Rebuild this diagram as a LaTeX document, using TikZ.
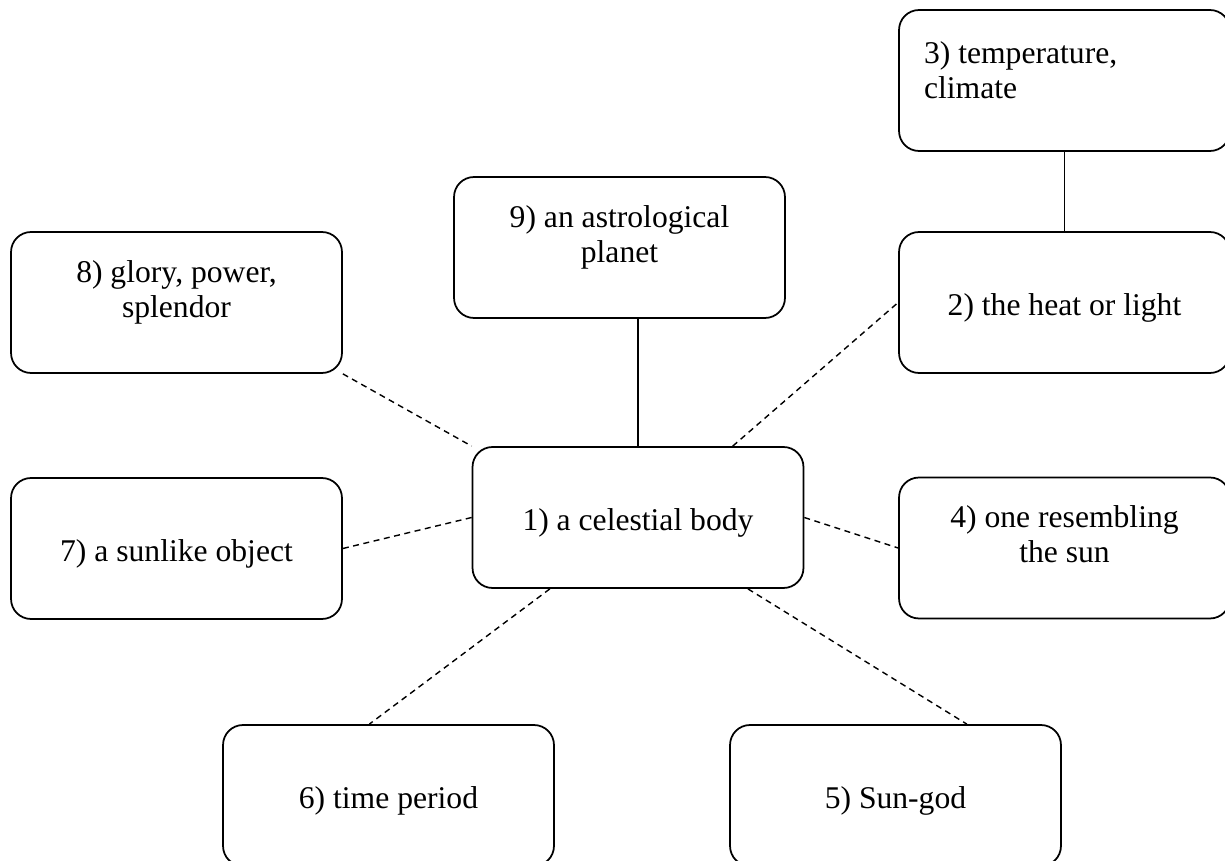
\documentclass[tikz,border=0pt]{standalone}
\usepackage{fontspec}
\setmainfont{Liberation Serif}
\newcommand{\boxtext}[2][0.51cm]{\parbox[c][2.82cm][t]{6.62cm}{\centering\vspace*{#1}\strut #2}}

\begin{document}
\begin{tikzpicture}[x=0.02cm, y=-0.02cm,
  box/.style={draw, line width=1pt, rounded corners=0.4cm, inner sep=0pt,
    font=\fontsize{18}{20}\selectfont},
  link/.style={line width=0.8pt, dash pattern=on 3.4pt off 2.6pt},
  tie/.style={line width=1pt}]
  \useasboundingbox (0,0) rectangle (1225,861);
  \clip (0,0) rectangle (1225,861);
  % centre
  \node[box] (n1) at (638,517.5) {\boxtext[1.17cm]{1) a celestial body}};
  % right column
  \node[box] (n3) at (1064.5,80.5) {\parbox[c][2.82cm][t]{6.62cm}{\raggedright\leftskip=0.5cm\vspace*{0.57cm}\strut 3) temperature,\\ climate}};
  \node[box] (n2) at (1064.5,302.5) {\boxtext[1.17cm]{2) the heat or light}};
  \node[box] (n4) at (1064.5,548) {\boxtext{4) one resembling\\ the sun}};
  % bottom row
  \node[box] (n5) at (895.5,795.5) {\boxtext[1.17cm]{5) Sun-god}};
  \node[box] (n6) at (388.5,795.5) {\boxtext[1.17cm]{6) time period}};
  % left column
  \node[box] (n7) at (176.5,548.5) {\boxtext[1.17cm]{7) a sunlike object}};
  \node[box] (n8) at (176.5,302.5) {\boxtext{8) glory, power,\\ splendor}};
  % top
  \node[box] (n9) at (619.5,247.5) {\boxtext{9) an astrological\\ planet}};
  % connectors
  \draw[tie] (n9.south -| n1.north) -- (n1.north);
  \draw[tie] (n3.south) -- (n2.north);
  \draw[link] (n8.south east) -- (n1.north west);
  \draw[link] (n1.37) -- (n2.west);
  \draw[link] (n7.east) -- (n1.west);
  \draw[link] (n1.east) -- (n4.west);
  \draw[link] (n1.219) -- (n6.105);
  \draw[link] (n1.327) -- (n5.45);
\end{tikzpicture}
\end{document}
